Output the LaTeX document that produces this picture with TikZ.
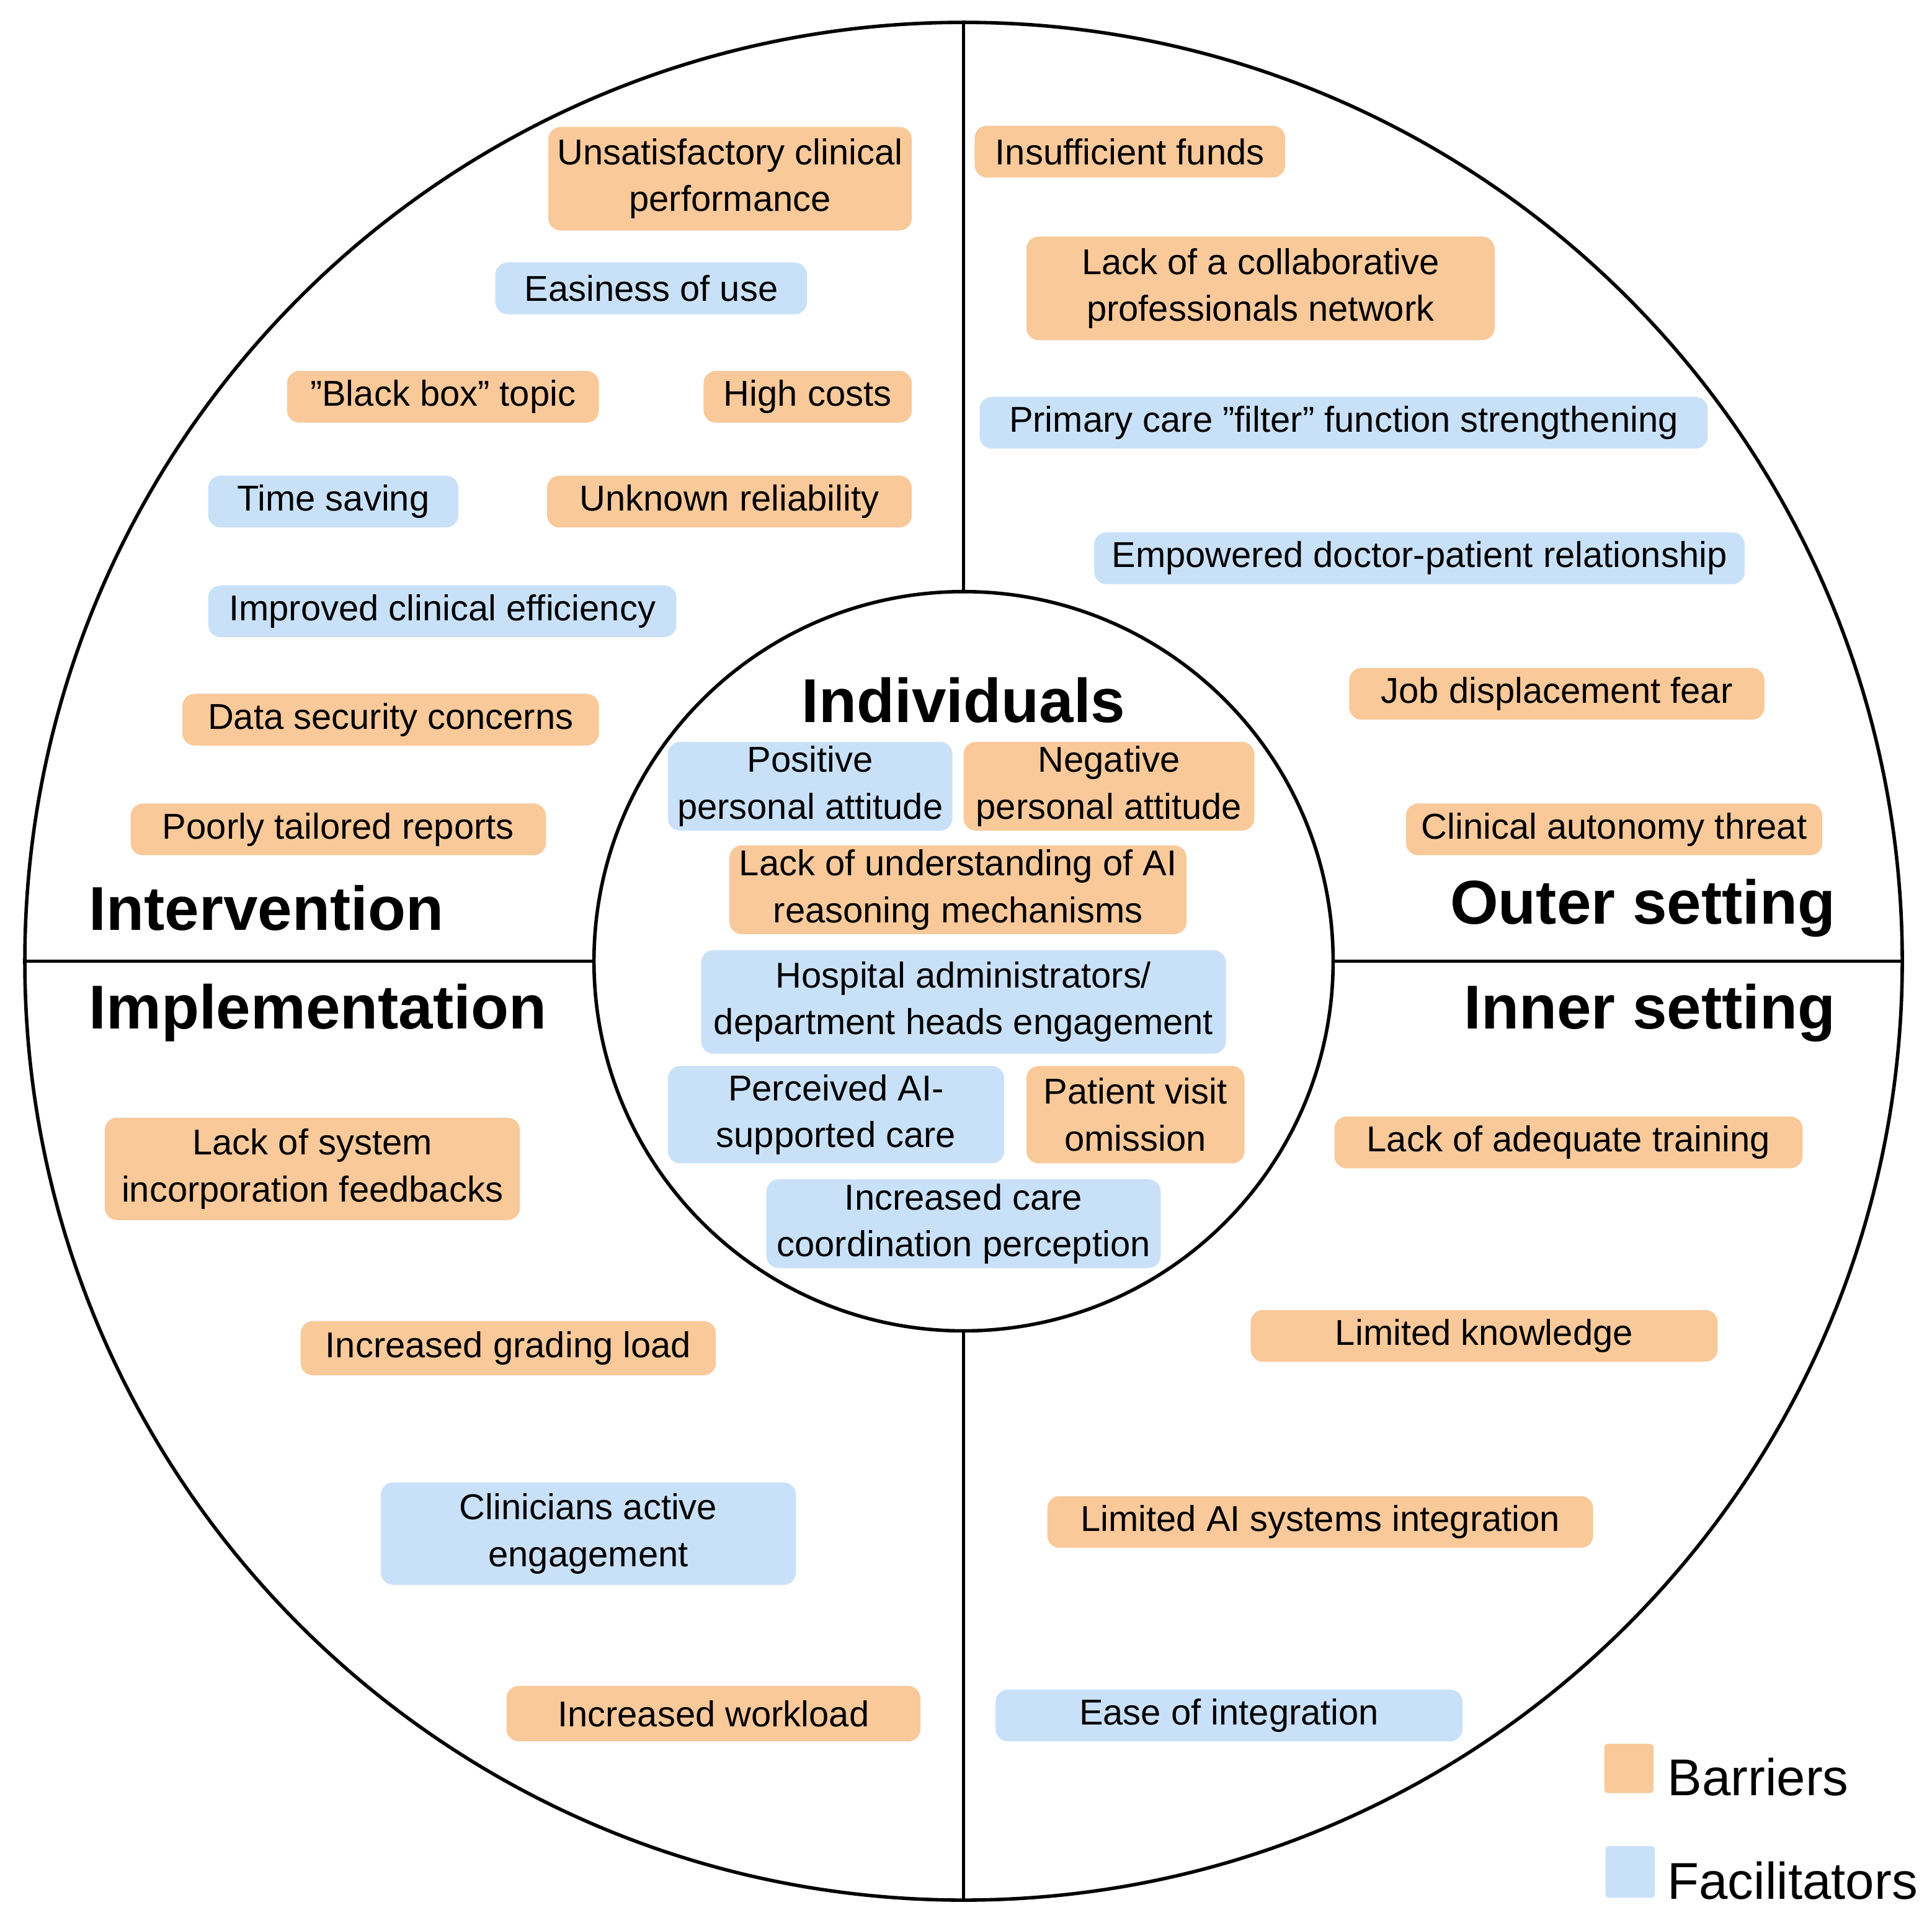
\documentclass[tikz,border=0pt]{standalone}
\usepackage{fontspec}
\setmainfont{Liberation Sans}
\definecolor{bar}{HTML}{F9C99A}
\definecolor{fac}{HTML}{C9E1F8}
\begin{document}
\begin{tikzpicture}[x=0.02cm,y=-0.02cm,
  bx/.style={rounded corners=0.2cm,inner sep=0pt,align=center,font=\fontsize{16.6}{21.6}\selectfont},
  B/.style={bx,fill=bar},F/.style={bx,fill=fac},
  ttl/.style={font=\fontsize{28.6}{34}\selectfont\bfseries,inner sep=0pt},
  ln/.style={line width=1.6pt}]
\useasboundingbox (0,0) rectangle (1568,1560);
\newcommand\bx[7]{\node[#2,minimum width={(#4-#3)*0.02cm},minimum height={(#6-#5)*0.02cm}] (#1) at ({(#3+#4)/2},{(#5+#6)/2}) {#7};}
\node[circle,draw,ln,minimum size=30.48cm,inner sep=0pt] (outer) at (782,780) {};
\node[circle,draw,ln,minimum size=12cm,inner sep=0pt] (inner) at (782,780) {};
\draw[ln] (outer.north) -- (inner.north);
\draw[ln] (inner.south) -- (outer.south);
\draw[ln] (outer.west) -- (inner.west);
\draw[ln] (inner.east) -- (outer.east);
\bx{a1}{B}{445}{740}{103}{187}{Unsatisfactory clinical\\performance}
\bx{a2}{F}{402}{655}{213}{255}{Easiness of use}
\bx{a3}{B}{233}{486}{301}{343}{"Black box" topic}
\bx{a4}{B}{571}{740}{301}{343}{High costs}
\bx{a5}{F}{169}{372}{386}{428}{Time saving}
\bx{a6}{B}{444}{740}{386}{428}{Unknown reliability}
\bx{a7}{F}{169}{549}{475}{517}{Improved clinical efficiency}
\bx{a8}{B}{148}{486}{563}{605}{Data security concerns}
\bx{a9}{B}{106}{443}{652}{694}{Poorly tailored reports}
\bx{b1}{B}{791}{1043}{102}{144}{Insufficient funds}
\bx{b2}{B}{833}{1213}{192}{276}{Lack of a collaborative\\professionals network}
\bx{b3}{F}{795}{1386}{322}{364}{Primary care "filter" function strengthening}
\bx{b4}{F}{888}{1416}{432}{474}{Empowered doctor-patient relationship}
\bx{b5}{B}{1095}{1432}{542}{584}{Job displacement fear}
\bx{b6}{B}{1141}{1479}{652}{694}{Clinical autonomy threat}
\bx{c1}{F}{542}{773}{602}{674}{Positive\\personal attitude}
\bx{c2}{B}{782}{1018}{602}{674}{Negative\\personal attitude}
\bx{c3}{B}{592}{963}{686}{758}{Lack of understanding of AI\\reasoning mechanisms}
\bx{c4}{F}{569}{995}{771}{855}{Hospital administrators/\\department heads engagement}
\bx{c5}{F}{542}{815}{865}{944}{Perceived AI-\\supported care}
\bx{c6}{B}{833}{1010}{865}{944}{Patient visit\\omission}
\bx{c7}{F}{622}{942}{957}{1029}{Increased care\\coordination perception}
\bx{d1}{B}{85}{422}{907}{990}{Lack of system\\incorporation feedbacks}
\bx{d2}{B}{244}{581}{1072}{1116}{Increased grading load}
\bx{d3}{F}{309}{646}{1203}{1286}{Clinicians active\\engagement}
\bx{d4}{B}{411}{747}{1368}{1413}{Increased workload}
\bx{e1}{B}{1083}{1463}{906}{948}{Lack of adequate training}
\bx{e2}{B}{1015}{1394}{1063}{1105}{Limited knowledge}
\bx{e3}{B}{850}{1293}{1214}{1256}{Limited AI systems integration}
\bx{e4}{F}{808}{1187}{1371}{1413}{Ease of integration}
\node[ttl] (t0) at (782,568) {Individuals};
\node[ttl,anchor=west] (t1) at (72,737) {Intervention};
\node[ttl,anchor=east] (t2) at (1490,737) {Outer setting};
\node[ttl,anchor=west] (t3) at (72,822) {Implementation};
\node[ttl,anchor=east] (t4) at (1490,822) {Inner setting};
\fill[bar,rounded corners=0.06cm] (1302,1415) rectangle (1342,1455);
\fill[fac,rounded corners=0.06cm] (1303,1498) rectangle (1343,1540);
\node[anchor=west,inner sep=0pt,font=\fontsize{23.9}{28}\selectfont] (l1) at (1353,1442) {Barriers};
\node[anchor=west,inner sep=0pt,font=\fontsize{23.9}{28}\selectfont] (l2) at (1353,1526) {Facilitators};
\end{tikzpicture}
\end{document}
